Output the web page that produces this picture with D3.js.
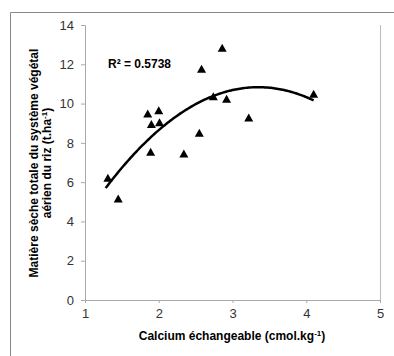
<!DOCTYPE html>
<html>
<head>
<meta charset="utf-8">
<script src="https://cdn.jsdelivr.net/npm/d3@7"></script>
<style>
  body { margin: 0; background: #fff; }
  text { font-family: "Liberation Sans", Arial, sans-serif; }
</style>
</head>
<body>
<script>
var calcium = [1.31, 1.45, 1.85, 2.00, 1.90, 2.01, 1.89, 2.34, 2.55, 2.58, 2.86, 2.74, 2.92, 3.22, 4.10];
var matiere = [6.20, 5.14, 9.47, 9.64, 8.93, 9.03, 7.52, 7.43, 8.49, 11.75, 12.82, 10.35, 10.22, 9.27, 10.47];
var xTicks = [1, 2, 3, 4, 5];
var yTicks = [0, 2, 4, 6, 8, 10, 12, 14];
var r2Label = "R² = 0.5738";

var width = 394, height = 356;
var plotLeft = 85, plotRight = 380, plotTop = 25, plotBottom = 300;

var svg = d3.select('body').append('svg')
    .attr('width', width)
    .attr('height', height);

// outer frame (only top and left are inside the picture)
svg.append('path')
    .attr('d', 'M10.5,' + height + 'V12.5H' + width)
    .attr('fill', 'none')
    .attr('stroke', '#888');

var x = d3.scaleLinear().domain([1, 5]).range([plotLeft, plotRight]);
var y = d3.scaleLinear().domain([0, 14]).range([plotBottom, plotTop]);

var xAxis = svg.append('g')
    .attr('transform', 'translate(0,' + plotBottom + ')')
    .call(d3.axisBottom(x).tickValues(xTicks).tickSize(3).tickPadding(6).tickFormat(d3.format('d')));
var yAxis = svg.append('g')
    .attr('transform', 'translate(' + plotLeft + ',0)')
    .call(d3.axisLeft(y).tickValues(yTicks).tickSize(4).tickPadding(7).tickFormat(d3.format('d')));

[xAxis, yAxis].forEach(function (g) {
    g.select('.domain').attr('stroke', '#aaa');
    g.selectAll('.tick line').attr('stroke', '#aaa');
    g.selectAll('.tick text')
        .attr('fill', '#333')
        .style('font-size', '13px')
        .style('font-family', '"Liberation Sans", Arial, sans-serif');
});

// right border of the plot area
svg.append('line')
    .attr('x1', plotRight + 0.5).attr('x2', plotRight + 0.5)
    .attr('y1', plotTop).attr('y2', plotBottom)
    .attr('stroke', '#bbb');

// polynomial (order 2) trend, least squares on the points
function quadFit(xs, ys) {
    var n = xs.length, s = [0, 0, 0, 0, 0], t = [0, 0, 0];
    for (var i = 0; i < n; i++) {
        var p = 1;
        for (var k = 0; k < 5; k++) { s[k] += p; if (k < 3) t[k] += p * ys[i]; p *= xs[i]; }
    }
    var m = [[s[0], s[1], s[2], t[0]], [s[1], s[2], s[3], t[1]], [s[2], s[3], s[4], t[2]]];
    for (var c = 0; c < 3; c++) {
        for (var r = c + 1; r < 3; r++) {
            var f = m[r][c] / m[c][c];
            for (var j = c; j < 4; j++) m[r][j] -= f * m[c][j];
        }
    }
    var b = [0, 0, 0];
    for (var r2 = 2; r2 >= 0; r2--) {
        var v = m[r2][3];
        for (var j2 = r2 + 1; j2 < 3; j2++) v -= m[r2][j2] * b[j2];
        b[r2] = v / m[r2][r2];
    }
    return b;
}
var coef = quadFit(calcium, matiere);
var xs = d3.range(d3.min(calcium) - 0.03, d3.max(calcium) + 0.001, 0.02);
svg.append('path')
    .datum(xs)
    .attr('fill', 'none')
    .attr('stroke', '#000')
    .attr('stroke-width', 2.5)
    .attr('d', d3.line()
        .x(function (d) { return x(d); })
        .y(function (d) { return y(coef[0] + coef[1] * d + coef[2] * d * d); }));

svg.selectAll('path.pt')
    .data(calcium)
    .enter().append('path')
        .attr('class', 'pt')
        .attr('transform', function (d, i) { return 'translate(' + x(d) + ',' + y(matiere[i]) + ')'; })
        .attr('d', 'M0,-4.5L4.5,3.5L-4.5,3.5Z')
        .attr('fill', '#000');

svg.append('text')
    .attr('x', 108).attr('y', 67.5)
    .style('font-size', '12px').style('font-weight', 'bold')
    .text(r2Label);

svg.append('text')
    .attr('x', 232).attr('y', 340)
    .attr('text-anchor', 'middle')
    .style('font-size', '12px').style('font-weight', 'bold')
    .html('Calcium échangeable (cmol.kg<tspan dy="-4" font-size="8">-1</tspan><tspan dy="4">)</tspan>');

var yTitle = svg.append('text')
    .attr('transform', 'translate(0,163) rotate(-90)')
    .attr('text-anchor', 'middle')
    .style('font-size', '12px').style('font-weight', 'bold');
yTitle.append('tspan').attr('x', 0).attr('y', 38).text('Matière sèche totale du système végétal');
yTitle.append('tspan').attr('x', 0).attr('y', 51)
    .html('aérien du riz (t.ha<tspan dy="-4" font-size="8">-1</tspan><tspan dy="4">)</tspan>');
</script>
</body>
</html>
